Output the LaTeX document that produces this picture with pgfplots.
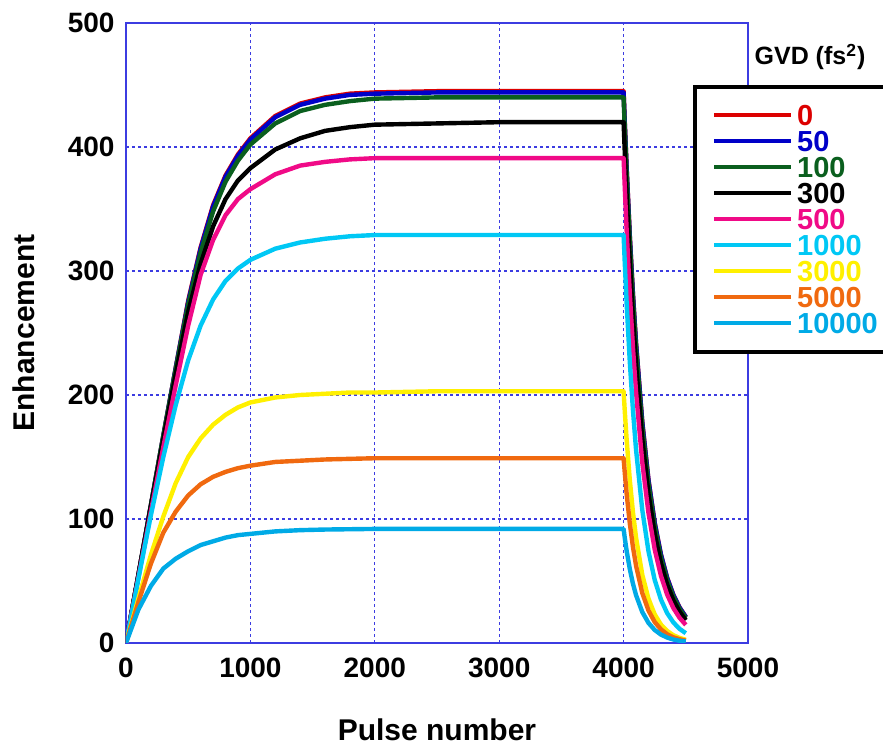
\documentclass[border=0pt]{standalone}
\usepackage{pgfplots}
\pgfplotsset{compat=1.18}
\usepackage{fontspec}
\setmainfont{Liberation Sans}

\definecolor{c0}{RGB}{220,0,0}
\definecolor{c50}{RGB}{0,0,200}
\definecolor{c100}{RGB}{10,95,30}
\definecolor{c300}{RGB}{0,0,0}
\definecolor{c500}{RGB}{240,10,135}
\definecolor{c1000}{RGB}{0,200,245}
\definecolor{c3000}{RGB}{255,240,0}
\definecolor{c5000}{RGB}{240,105,15}
\definecolor{c10000}{RGB}{0,170,230}
\definecolor{axblue}{RGB}{60,60,225}

\begin{document}
\begin{tikzpicture}
\path[use as bounding box] (-63pt,-52.5pt) rectangle (378.5pt,321.5pt);
\begin{axis}[
    name=ax,
    scale only axis,
    width=311pt, height=310pt,
    xmin=0, xmax=5000,
    ymin=0, ymax=500,
    xtick={0,1000,...,5000},
    ytick={0,100,...,500},
    major tick length=0pt,
    axis line style={axblue, line width=1pt},
    grid=major,
    major grid style={axblue, line width=0.6pt, dash pattern=on 1.5pt off 1.5pt},
    /pgf/number format/assume math mode=true,
    /pgf/number format/1000 sep={},
    ticklabel style={font=\fontsize{14}{16}\selectfont\bfseries},
    xticklabel style={yshift=-3.7pt},
    yticklabel style={xshift=-2.2pt},
    xlabel={Pulse number},
    ylabel={Enhancement},
    label style={font=\fontsize{15}{17}\selectfont\bfseries},
    xlabel style={at={(axis description cs:0.5,-0.14)}, anchor=center},
    ylabel style={at={(axis description cs:-0.164,0.5)}, anchor=center},
    every axis plot/.append style={line width=2.2pt, line join=round},
    legend image code/.code={\path (-6pt,0); \draw[#1, line width=2pt] (0,0) -- (38.5pt,0);},
    legend style={
        at={(axis description cs:0.9116,0.9)}, anchor=north west,
        draw=black, line width=2pt,
        inner xsep=2.5pt, inner ysep=9pt,
        row sep=2.6pt,
        font=\fontsize{14.5}{15}\selectfont\bfseries,
        nodes={inner xsep=2pt, inner ysep=0pt, text height=10.4pt, text depth=0pt},
    },
    legend cell align=left,
]
\addplot[c0] coordinates {(0,0)(100,55)(200,111)(300,167)(400,222)(500,276)(600,319)(700,353)(800,377)(900,394)(1000,407)(1200,425)(1400,435)(1600,440)(1800,443)(2000,444)(2500,445)(3000,445)(3500,445)(4000,445)(4010,418.6)(4025,382.1)(4050,328.1)(4075,281.7)(4100,241.9)(4150,178.3)(4200,131.5)(4250,96.9)(4300,71.4)(4350,52.6)(4400,38.8)(4450,28.6)(4500,21.1)};
\addplot[c50] coordinates {(0,0)(100,55)(200,111)(300,167)(400,222)(500,275)(600,318)(700,352)(800,376)(900,393)(1000,406)(1200,424)(1400,434)(1600,439)(1800,442)(2000,443)(2500,444)(4000,444)(4010,417.7)(4025,381.2)(4050,327.3)(4075,281.1)(4100,241.3)(4150,177.9)(4200,131.2)(4250,96.7)(4300,71.3)(4350,52.5)(4400,38.7)(4450,28.5)(4500,21.0)};
\addplot[c100] coordinates {(0,0)(100,55)(200,111)(300,167)(400,221)(500,273)(600,315)(700,348)(800,372)(900,389)(1000,402)(1200,419)(1400,429)(1600,434)(1800,437)(2000,439)(2500,440)(4000,440)(4010,413.6)(4025,377.1)(4050,323.2)(4075,276.9)(4100,237.3)(4150,174.3)(4200,128.0)(4250,94.0)(4300,69.0)(4350,50.7)(4400,37.3)(4450,27.4)(4500,20.1)};
\addplot[c300] coordinates {(0,0)(100,55)(200,110)(300,164)(400,217)(500,267)(600,306)(700,336)(800,358)(900,373)(1000,383)(1200,398)(1400,407)(1600,413)(1800,416)(2000,418)(2500,419)(3000,420)(4000,420)(4010,394.5)(4025,359.2)(4050,307.3)(4075,262.8)(4100,224.8)(4150,164.5)(4200,120.3)(4250,88.0)(4300,64.4)(4350,47.1)(4400,34.5)(4450,25.2)(4500,18.4)};
\addplot[c500] coordinates {(0,0)(100,53)(200,106)(300,158)(400,208)(500,256)(600,297)(700,325)(800,345)(900,358)(1000,366)(1200,378)(1400,385)(1600,388)(1800,390)(2000,391)(4000,391)(4010,366.1)(4025,331.7)(4050,281.4)(4075,238.7)(4100,202.5)(4150,145.8)(4200,104.9)(4250,75.5)(4300,54.3)(4350,39.1)(4400,28.2)(4450,20.3)(4500,14.6)};
\addplot[c1000] coordinates {(0,0)(100,52)(200,103)(300,150)(400,192)(500,228)(600,256)(700,277)(800,292)(900,302)(1000,309)(1200,318)(1400,323)(1600,326)(1800,328)(2000,329)(4000,329)(4010,305.3)(4025,273.0)(4050,226.5)(4075,188.0)(4100,156.0)(4150,107.4)(4200,74.0)(4250,50.9)(4300,35.1)(4350,24.1)(4400,16.6)(4450,11.4)(4500,7.9)};
\addplot[c3000] coordinates {(0,0)(100,36)(200,71)(300,102)(400,129)(500,150)(600,165)(700,176)(800,184)(900,190)(1000,194)(1200,198)(1400,200)(1600,201)(1800,202)(2000,202)(2500,203)(4000,203)(4010,186.1)(4025,163.4)(4050,131.4)(4075,105.7)(4100,85.1)(4150,55.1)(4200,35.7)(4250,23.1)(4300,14.9)(4350,9.7)(4400,6.3)(4450,4.1)(4500,2.6)};
\addplot[c5000] coordinates {(0,0)(100,33)(200,64)(300,89)(400,106)(500,119)(600,128)(700,134)(800,138)(900,141)(1000,143)(1200,146)(1400,147)(1600,148)(2000,149)(4000,149)(4010,136.6)(4025,119.9)(4050,96.4)(4075,77.6)(4100,62.4)(4150,40.4)(4200,26.2)(4250,16.9)(4300,11.0)(4350,7.1)(4400,4.6)(4450,3.0)(4500,1.9)};
\addplot[c10000] coordinates {(0,0)(100,27)(200,46)(300,60)(400,68)(500,74)(600,79)(700,82)(800,85)(900,87)(1000,88)(1200,90)(1400,91)(1600,91.5)(2000,92)(4000,92)(4010,84.3)(4025,74.0)(4050,59.6)(4075,47.9)(4100,38.6)(4150,25.0)(4200,16.2)(4250,10.5)(4300,6.8)(4350,4.4)(4400,2.8)(4450,1.8)(4500,1.2)};
\legend{\textcolor{c0}{0},\textcolor{c50}{50},\textcolor{c100}{100},\textcolor{c300}{300},\textcolor{c500}{500},\textcolor{c1000}{1000},\textcolor{c3000}{3000},\textcolor{c5000}{5000},\textcolor{c10000}{10000}}
\end{axis}
\node[font=\fontsize{12.5}{14}\selectfont\bfseries] at (342pt,293pt) {GVD (fs\textsuperscript{2})};
\end{tikzpicture}
\end{document}
